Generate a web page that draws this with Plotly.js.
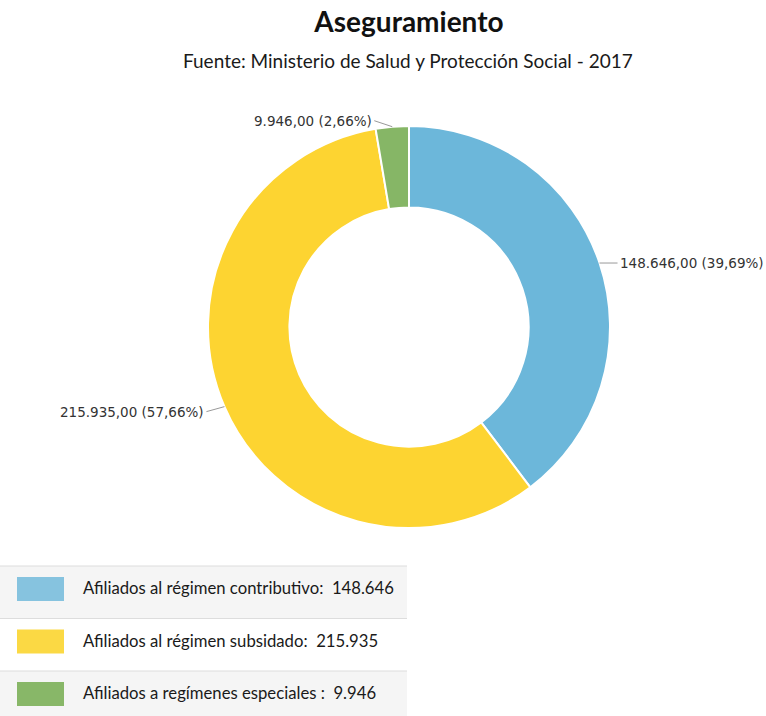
<!DOCTYPE html>
<html>
<head>
<meta charset="utf-8">
<script src="https://cdn.plot.ly/plotly-3.0.1.min.js"></script>
<style>html,body{margin:0;padding:0;background:#fff;}#chart{width:766px;height:716px;}</style>
</head>
<body>
<div id="chart"></div>
<script>
// ---- data ----
const categories = [
  "Afiliados al régimen contributivo:",
  "Afiliados al régimen subsidado:",
  "Afiliados a regímenes especiales :"
];
const values = [148646, 215935, 9946];
const legendValueLabels = ["148.646", "215.935", "9.946"];
const sliceColors = ["#6cb7da", "#fdd431", "#86b666"];
const swatchColors = ["#86c3df", "#fbd944", "#88b768"];
const titleText = "Aseguramiento";
const subtitleText = "Fuente: Ministerio de Salud y Protección Social - 2017";

// ---- layout helpers ----
const W = 766, H = 716;
const px = x => x / W;
const py = y => 1 - y / H;
const titleFont = "Lato, 'Open Sans', sans-serif";
const labelFont = "'DejaVu Sans', Verdana, sans-serif";

// pie geometry (pixels)
const CX = 409, CY = 327, R = 201;

const shapes = [];
const annotations = [];
categories.forEach((c, i) => {
  const top = 566 + i * 52.5;
  shapes.push({type: "rect", xref: "paper", yref: "paper", x0: 0, x1: px(407),
    y0: py(top + 52.5), y1: py(top), line: {width: 0},
    fillcolor: i % 2 === 0 ? "#f5f5f5" : "#ffffff", layer: "below"});
  shapes.push({type: "line", xref: "paper", yref: "paper", x0: 0, x1: px(407),
    y0: py(top), y1: py(top), line: {color: "#dddddd", width: 1}});
  shapes.push({type: "rect", xref: "paper", yref: "paper", x0: px(17), x1: px(64),
    y0: py(top + 35), y1: py(top + 11), line: {width: 0}, fillcolor: swatchColors[i]});
  annotations.push({xref: "paper", yref: "paper", x: px(81), y: py(top + 22),
    xanchor: "left", yanchor: "middle", showarrow: false,
    text: c + "&nbsp;&nbsp;" + legendValueLabels[i],
    font: {family: titleFont, size: 16.7, color: "#1a1a1a"}});
});
annotations.push({xref: "paper", yref: "paper", x: px(408), y: py(61),
  xanchor: "center", yanchor: "middle", showarrow: false, text: subtitleText,
  font: {family: titleFont, size: 19, color: "#1a1a1a"}});

// outside slice labels with leader lines, positioned from the data
const total = values.reduce((a, b) => a + b, 0);
const fmt = (v, d) => v.toFixed(d).replace(".", ",");
const thousands = s => s.replace(/\B(?=(\d{3})+(?!\d))/g, ".");
let cum = 0;
values.forEach((v, i) => {
  const frac = v / total;
  const mid = (cum + frac / 2) * 2 * Math.PI;
  cum += frac;
  const sx = CX + R * Math.sin(mid);
  const sy = CY - R * Math.cos(mid);
  const right = Math.sin(mid) >= 0;
  const [ip, dp] = v.toFixed(2).split(".");
  const txt = thousands(ip) + "," + dp + " (" + fmt(frac * 100, 2) + "%)";
  const nearTop = Math.cos(mid) > 0.95;
  annotations.push({xref: "paper", yref: "paper", x: px(sx), y: py(sy),
    text: txt, showarrow: true, arrowhead: 0, arrowwidth: 1, arrowcolor: "#999",
    ax: right ? 18 : -18, ay: nearTop ? -6 : (right ? 0 : 5),
    xanchor: right ? "left" : "right", yanchor: "middle",
    font: {family: labelFont, size: 13.5, color: "#333"}});
});

const trace = {
  type: "pie",
  labels: categories,
  values: values,
  sort: false,
  direction: "clockwise",
  rotation: 0,
  hole: 0.595,
  marker: {colors: sliceColors, line: {color: "#ffffff", width: 2}},
  textinfo: "none",
  domain: {x: [px(CX - R), px(CX + R)], y: [py(CY + R), py(CY - R)]},
  showlegend: false
};

const layout = {
  width: W, height: H,
  margin: {l: 0, r: 0, t: 0, b: 0},
  paper_bgcolor: "#ffffff",
  separators: ",.",
  title: {text: "<b>" + titleText + "</b>", x: px(409), xanchor: "center",
    y: py(22), yanchor: "middle", font: {family: titleFont, size: 28, color: "#111"}},
  shapes: shapes,
  annotations: annotations,
  showlegend: false
};

Plotly.newPlot("chart", [trace], layout, {displayModeBar: false, staticPlot: true});
</script>
</body>
</html>
